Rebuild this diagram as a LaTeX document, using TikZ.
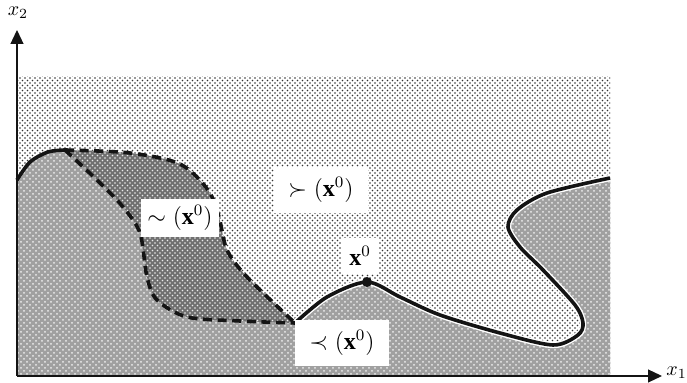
\documentclass[tikz,border=0pt]{standalone}
\usepackage{amsmath,amssymb}
\usepackage{fontspec}
\setmainfont{Liberation Serif}
\usetikzlibrary{arrows.meta,patterns}
\definecolor{figline}{RGB}{20,20,20}
\definecolor{lowfill}{RGB}{160,160,160}
\definecolor{eqfill}{RGB}{112,112,112}
\pgfdeclarepatternformonly{sparsedots}{\pgfqpoint{-0.6pt}{-0.6pt}}{\pgfqpoint{2.5pt}{2.5pt}}{\pgfqpoint{2.5pt}{2.5pt}}{%
  \pgfpathcircle{\pgfqpoint{0pt}{0pt}}{0.45pt}%
  \pgfpathcircle{\pgfqpoint{1.25pt}{1.25pt}}{0.45pt}%
  \pgfusepath{fill}}
\tikzset{
  axs/.style  ={draw=figline, line width=0.6pt, -{Triangle[length=7pt,width=6.5pt]}},
  bnd/.style  ={draw=figline, line width=1.8pt, line join=round},
  dsh/.style  ={bnd, dash pattern=on 4.5pt off 2.8pt},
  lab/.style  ={fill=white, font=\large, inner xsep=7pt, inner ysep=5pt},
  labs/.style ={font=\normalsize, inner sep=0pt},
}
\begin{document}
\begin{tikzpicture}[x=0.5pt,y=-0.5pt]
  \useasboundingbox (0,0) rectangle (687,383);
  \coordinate (O) at (17,376);
  \coordinate (xe) at (662,376);
  \coordinate (ye) at (17,30);
  \fill[pattern=sparsedots, pattern color=black!80] (17,77) rectangle (610,376);
  \fill[lowfill, postaction={pattern=crosshatch dots, pattern color=white!85!gray}]
    (17,376) -- (17,180)
    -- plot[smooth] coordinates {(17,180) (30,162) (48,152) (65,150)}
    -- plot[smooth] coordinates {(65,150) (100,183) (123,207) (140,233) (147,277) (157,300) (187,317) (240,321) (295,323)}
    -- plot[smooth] coordinates {(295,323) (327,297) (367,282) (400,297) (440,315) (500,333) (553,345) (578,335) (583,323) (575,305) (543,270) (520,247) (508,227) (517,210) (547,193) (610,178)}
    -- (610,376) -- cycle;
  \fill[eqfill, postaction={pattern=sparsedots, pattern color=white!85!gray}]
    plot[smooth] coordinates {(65,150) (130,153) (180,164) (208,190) (219,217) (227,250) (247,277) (295,323)}
    -- plot[smooth] coordinates {(295,323) (240,321) (187,317) (157,300) (147,277) (140,233) (123,207) (100,183) (65,150)} -- cycle;
  \draw[bnd] plot[smooth] coordinates {(17,180) (30,162) (48,152) (65,150)};
  \draw[draw=white, line width=3.2pt] plot[smooth] coordinates {(295,323) (327,297) (367,282) (400,297) (440,315) (500,333) (553,345) (578,335) (583,323) (575,305) (543,270) (520,247) (508,227) (517,210) (547,193) (610,178)};
  \draw[bnd] plot[smooth] coordinates {(295,323) (327,297) (367,282) (400,297) (440,315) (500,333) (553,345) (578,335) (583,323) (575,305) (543,270) (520,247) (508,227) (517,210) (547,193) (610,178)};
  \draw[dsh] plot[smooth] coordinates {(65,150) (130,153) (180,164) (208,190) (219,217) (227,250) (247,277) (295,323)};
  \draw[dsh] plot[smooth] coordinates {(65,150) (100,183) (123,207) (140,233) (147,277) (157,300) (187,317) (240,321) (295,323)};
  \node[circle, fill=figline, inner sep=0pt, minimum size=5pt] (x0) at (367,282) {};
  \node[lab] (better) at (321,190) {$\succ(\mathbf{x}^0)$};
  \node[lab, inner xsep=3pt, inner ysep=3pt] (indiff) at (180,218) {$\sim(\mathbf{x}^0)$};
  \node[lab, inner xsep=4pt, inner ysep=4pt] (x0lab) at (360,256) {$\mathbf{x}^0$};
  \node[lab] (worse) at (342,343) {$\prec(\mathbf{x}^0)$};
  \draw[axs] (O) -- (xe);
  \draw[axs] (O) -- (ye);
  \node[labs, anchor=base west] (x1lab) at (666,376) {$x_1$};
  \node[labs] (x2lab) at (18,13) {$x_2$};
\end{tikzpicture}
\end{document}
